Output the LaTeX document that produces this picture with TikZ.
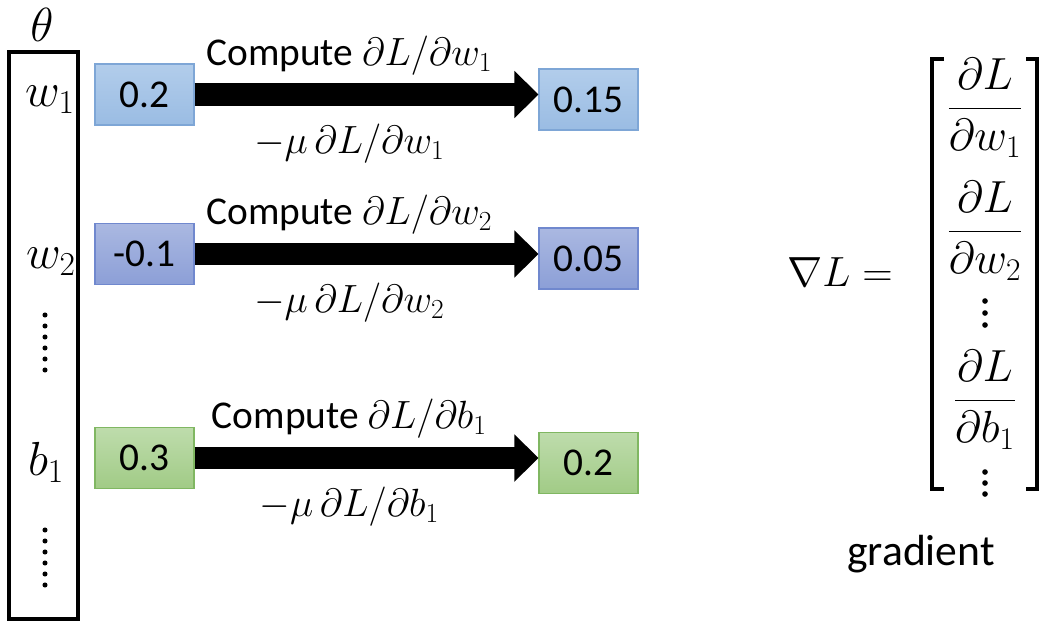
\RequirePackage{fix-cm}
\documentclass[tikz,border=0pt]{standalone}
\usepackage{amsmath}
\usepackage{fontspec}
\setmainfont{Carlito}
\usetikzlibrary{arrows.meta}
\definecolor{bluetop}{HTML}{B2CDEB}
\definecolor{bluebot}{HTML}{9ABCE3}
\definecolor{blueedge}{HTML}{7EA6D6}
\definecolor{indtop}{HTML}{AAB8E1}
\definecolor{indbot}{HTML}{8C9FD7}
\definecolor{indedge}{HTML}{7088CE}
\definecolor{grntop}{HTML}{BEDCAC}
\definecolor{grnbot}{HTML}{A1CB86}
\definecolor{grnedge}{HTML}{80B762}

\begin{document}
\begin{tikzpicture}[x=0.025cm,y=-0.025cm,
  val/.style={rectangle,draw,line width=0.8pt,inner sep=0pt,minimum width=2.475cm,minimum height=1.525cm,font=\fontsize{28}{32}\selectfont},
  blu/.style={val,draw=blueedge,top color=bluetop,bottom color=bluebot},
  ind/.style={val,draw=indedge,top color=indtop,bottom color=indbot},
  grn/.style={val,draw=grnedge,top color=grntop,bottom color=grnbot},
  bigarr/.style={line width=16pt,-{Triangle[length=0.6cm,width=1.15cm]}},
  lbl/.style={inner sep=0pt,font=\fontsize{28}{32}\selectfont},
  vlab/.style={inner sep=0pt,font=\fontsize{34}{40}\selectfont},
  frac/.style={inner sep=0pt,font=\fontsize{32}{38}\selectfont}
]
\useasboundingbox (0,0) rectangle (1053,626);
% parameter vector
\node[vlab] (theta) at (42,25) {$\theta$};
\node[draw,line width=2.8pt,inner sep=0pt,minimum width=1.725cm,minimum height=14.175cm] (vec) at (43.5,335.5) {};
\node[vlab] (w1) at (50,100) {$w_1$};
\node[vlab] (w2) at (51,262) {$w_2$};
\node[vlab] (b1) at (46,462) {$b_1$};
\foreach \y in {315,326,...,370} \fill (45,\y) circle (1.8pt);
\foreach \y in {530,541,...,585} \fill (45,\y) circle (1.8pt);
% updates
\node[blu] (s1) at (144.5,94.5) {0.2};
\node[blu] (t1) at (588.5,99.5) {0.15};
\node[ind] (s2) at (144.5,254) {-0.1};
\node[ind] (t2) at (588.5,258.5) {0.05};
\node[grn] (s3) at (144.5,458) {0.3};
\node[grn] (t3) at (588.5,463) {0.2};
\draw[bigarr] (s1.east) -- (s1.east -| t1.west)
  node[lbl,pos=.45,above=0.2cm] (c1) {Compute $\partial L/\partial w_1$}
  node[lbl,pos=.45,below=0.45cm] (m1) {$-\mu\,\partial L/\partial w_1$};
\draw[bigarr] (s2.east) -- (s2.east -| t2.west)
  node[lbl,pos=.45,above=0.2cm] (c2) {Compute $\partial L/\partial w_2$}
  node[lbl,pos=.45,below=0.45cm] (m2) {$-\mu\,\partial L/\partial w_2$};
\draw[bigarr] (s3.east) -- (s3.east -| t3.west)
  node[lbl,pos=.45,above=0.2cm] (c3) {Compute $\partial L/\partial b_1$}
  node[lbl,pos=.45,below=0.45cm] (m3) {$-\mu\,\partial L/\partial b_1$};
% gradient vector
\node[inner sep=0pt,font=\fontsize{30}{36}\selectfont] (nab) at (840,272) {$\nabla L =$};
\node[frac] (f1) at (985,108) {$\dfrac{\partial L}{\partial w_1}$};
\node[frac] (f2) at (985,231) {$\dfrac{\partial L}{\partial w_2}$};
\node[frac] (f3) at (985,400) {$\dfrac{\partial L}{\partial b_1}$};
\foreach \y in {301,313,325} \fill (985,\y) circle (2pt);
\foreach \y in {472,483,494} \fill (985,\y) circle (2pt);
\draw[line width=2.4pt] (944,59) -| (932,489) -- (944,489);
\draw[line width=2.4pt] (1026,59) -| (1037,489) -- (1026,489);
\node[font=\fontsize{31}{36}\selectfont] (grad) at (921,554) {gradient};
\end{tikzpicture}
\end{document}
